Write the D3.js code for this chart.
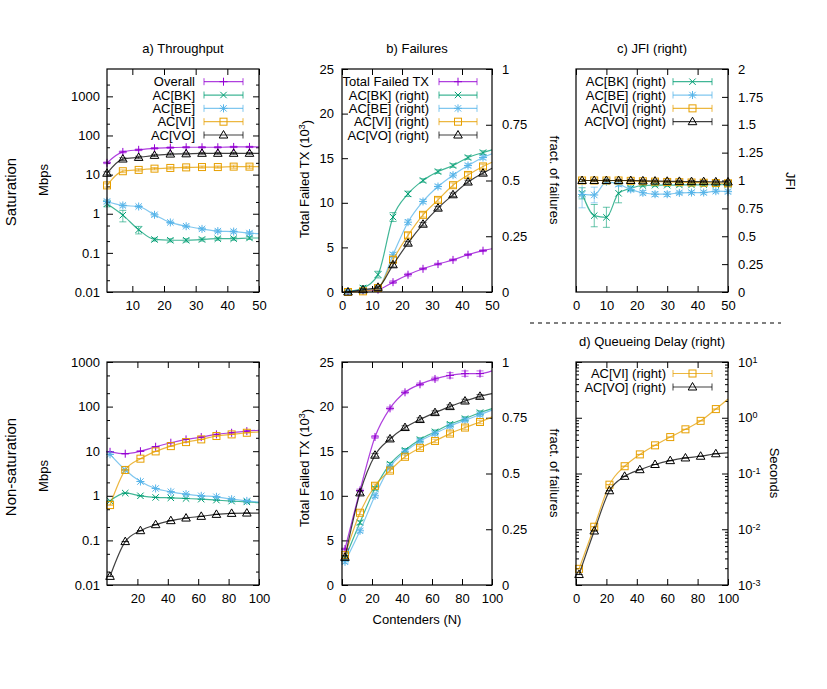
<!DOCTYPE html>
<html>
<head>
<meta charset="utf-8">
<script src="https://cdn.jsdelivr.net/npm/d3@7"></script>
<style>
  body { margin: 0; background: #fff; }
  text { font-family: "Liberation Sans", Arial, sans-serif; font-size: 13px; fill: #000; }
</style>
</head>
<body>
<div id="graf"></div>
<script>
// ---- x positions (last entry of the saturation/non-sat arrays is where the line ends, no marker)
const xSat = [2, 7, 12, 17, 22, 27, 32, 37, 42, 47, 50];
const xSatJfi = [2, 6, 10, 14, 18, 22, 26, 30, 34, 38, 42, 46, 50];
const xNonSat = [2, 12, 22, 32, 42, 52, 62, 72, 82, 92, 100];

// ---- a) throughput, saturation (Mbps)
const satThrOverall = [20, 38, 43, 47, 49, 50, 50, 50, 51, 51, 51];
const satThrBK = [1.8, 0.92, 0.39, 0.22, 0.21, 0.21, 0.22, 0.23, 0.23, 0.24, 0.24];
const satThrBE = [2.06, 1.63, 1.53, 0.94, 0.6, 0.48, 0.41, 0.36, 0.35, 0.32, 0.31];
const satThrVI = [5.3, 12.2, 13.2, 14.2, 14.8, 15.3, 15.6, 15.6, 16, 16, 16];
const satThrVO = [10.8, 25, 27.5, 31, 33.5, 34, 35, 35, 35, 35, 35];
const satThrOverallErr = [1, 2, 2, 2, 2, 2, 2, 2, 2, 2, 0];
const satThrBKErr = [0.3, 0.3, 0.085, 0.02, 0.02, 0.02, 0.02, 0.02, 0.02, 0.02, 0];
const satThrBEErr = [0.2, 0.15, 0.1, 0.08, 0.04, 0.03, 0.03, 0.03, 0.03, 0.03, 0];
const satThrVIErr = [0.5, 1, 1, 1, 1, 1, 1, 1, 1.5, 1.5, 0];
const satThrVOErr = [1, 2, 2, 2, 2, 2, 2, 2, 2, 2, 0];

// ---- b) failures, saturation (total in 10^3, per AC as fraction)
const satFailTotal = [0, 0.15, 0.26, 1.1, 1.94, 2.6, 3.13, 3.6, 4.18, 4.63, 4.85];
const satFailBK = [0.003, 0.018, 0.078, 0.336, 0.44, 0.5, 0.54, 0.567, 0.603, 0.625, 0.637];
const satFailBE = [0.003, 0.007, 0.018, 0.167, 0.313, 0.406, 0.473, 0.524, 0.567, 0.603, 0.62];
const satFailVI = [0, 0.003, 0.018, 0.145, 0.254, 0.346, 0.413, 0.479, 0.525, 0.563, 0.582];
const satFailVO = [0, 0.01, 0.021, 0.122, 0.219, 0.304, 0.376, 0.436, 0.493, 0.533, 0.555];
const satFailTotalErr = [0, 0.1, 0.1, 0.15, 0.15, 0.1, 0.1, 0.1, 0.1, 0.1, 0];
const satFailBKErr = [0.005, 0.01, 0.015, 0.02, 0.012, 0.008, 0.008, 0.008, 0.008, 0.008, 0];
const satFailBEErr = [0.003, 0.005, 0.005, 0.01, 0.01, 0.008, 0.008, 0.008, 0.008, 0.008, 0];
const satFailVIErr = [0.003, 0.005, 0.008, 0.015, 0.012, 0.01, 0.01, 0.01, 0.01, 0.01, 0];
const satFailVOErr = [0.003, 0.005, 0.005, 0.01, 0.008, 0.008, 0.008, 0.008, 0.008, 0.008, 0];

// ---- c) JFI, saturation
const jfiBK = [0.885, 0.685, 0.67, 0.885, 0.93, 0.955, 0.958, 0.958, 0.96, 0.96, 0.962, 0.962, 0.964];
const jfiBE = [0.875, 0.87, 0.988, 0.967, 0.92, 0.89, 0.877, 0.877, 0.889, 0.892, 0.892, 0.904, 0.9];
const jfiVI = [1, 1, 1, 1, 0.997, 0.993, 0.99, 0.987, 0.985, 0.982, 0.98, 0.977, 0.975];
const jfiVO = [1, 1, 1, 1, 1, 0.997, 0.995, 0.993, 0.992, 0.99, 0.99, 0.988, 0.987];
const jfiBKErr = [0.05, 0.1, 0.09, 0.085, 0.02, 0.01, 0.01, 0.01, 0.01, 0.01, 0.01, 0.01, 0.01];
const jfiBEErr = [0.12, 0.07, 0.02, 0.02, 0.02, 0.02, 0.02, 0.02, 0.015, 0.015, 0.015, 0.015, 0.015];
const jfiSmallErr = [0.01, 0.01, 0.01, 0.01, 0.01, 0.01, 0.01, 0.01, 0.01, 0.01, 0.01, 0.01, 0.01];

// ---- throughput, non-saturation (Mbps)
const nsThrOverall = [9.7, 8.8, 10, 12.6, 15.5, 18.4, 20.7, 23.8, 25.9, 28.2, 29.5];
const nsThrBK = [0.77, 1.15, 1.0, 0.92, 0.9, 0.87, 0.84, 0.8, 0.76, 0.73, 0.7];
const nsThrBE = [8.5, 3.8, 2.09, 1.46, 1.23, 1.09, 1.0, 0.95, 0.84, 0.77, 0.72];
const nsThrVI = [0.62, 3.8, 6.8, 9.9, 13, 16, 18.4, 21.9, 23.8, 25.9, 27];
const nsThrVO = [0.0156, 0.094, 0.165, 0.225, 0.277, 0.317, 0.346, 0.383, 0.403, 0.41, 0.41];
const nsThrErr = [0, 0, 0, 0, 0, 0, 0, 0, 0, 0, 0];

// ---- failures, non-saturation
const nsFailTotal = [4.03, 10.6, 16.6, 19.8, 21.6, 22.5, 23.1, 23.5, 23.7, 23.7, 24.0];
const nsFailBK = [0.119, 0.28, 0.433, 0.542, 0.604, 0.652, 0.687, 0.721, 0.746, 0.773, 0.791];
const nsFailBE = [0.104, 0.243, 0.4, 0.53, 0.597, 0.645, 0.679, 0.712, 0.739, 0.764, 0.784];
const nsFailVI = [0.134, 0.324, 0.445, 0.513, 0.575, 0.615, 0.646, 0.679, 0.706, 0.731, 0.754];
const nsFailVO = [0.124, 0.413, 0.582, 0.655, 0.706, 0.742, 0.773, 0.8, 0.825, 0.846, 0.858];
const nsFailTotalErr = [0.1, 0.15, 0.15, 0.15, 0.15, 0.15, 0.2, 0.3, 0.3, 0.3, 0];
const nsFailErr = [0.008, 0.008, 0.008, 0.008, 0.008, 0.008, 0.008, 0.008, 0.008, 0.008, 0];

// ---- d) queueing delay, non-saturation (seconds)
const delayVI = [0.00195, 0.0111, 0.063, 0.135, 0.22, 0.32, 0.45, 0.62, 0.88, 1.43, 2.17];
const delayVO = [0.00154, 0.0093, 0.049, 0.089, 0.117, 0.145, 0.17, 0.19, 0.204, 0.226, 0.235];
const delayErr = [0, 0, 0, 0, 0, 0, 0, 0, 0, 0, 0];

const C = { all: "#9400d3", bk: "#009e73", be: "#56b4e9", vi: "#e69f00", vo: "#000000" };

const svg = d3.select("#graf").append("svg")
    .attr("width", 827).attr("height", 689)
    .attr("viewBox", [0, 0, 827, 689]);

const logTicks = (lo, hi) => d3.range(Math.round(Math.log10(lo)), Math.round(Math.log10(hi)) + 1).map(e => Math.pow(10, e));
const logMinor = (lo, hi, mult) => {
  const out = [];
  d3.range(Math.floor(Math.log10(lo)), Math.ceil(Math.log10(hi)) + 1).forEach(e =>
    mult.forEach(m => { const v = m * Math.pow(10, e); if (v > lo && v < hi) out.push(v); }));
  return out;
};

function marker(g, type, cx, cy, color) {
  const s = g.append("g").attr("stroke", color).attr("fill", "none").attr("stroke-width", 1);
  if (type === "plus" || type === "star") {
    s.append("line").attr("x1", cx - 4).attr("x2", cx + 4).attr("y1", cy).attr("y2", cy);
    s.append("line").attr("x1", cx).attr("x2", cx).attr("y1", cy - 4).attr("y2", cy + 4);
  }
  if (type === "cross" || type === "star") {
    s.append("line").attr("x1", cx - 3.2).attr("x2", cx + 3.2).attr("y1", cy - 3.2).attr("y2", cy + 3.2);
    s.append("line").attr("x1", cx - 3.2).attr("x2", cx + 3.2).attr("y1", cy + 3.2).attr("y2", cy - 3.2);
  }
  if (type === "square") {
    s.append("rect").attr("x", cx - 3.5).attr("y", cy - 3.5).attr("width", 7).attr("height", 7);
  }
  if (type === "tri") {
    s.append("path").attr("d", `M${cx},${cy - 4.5}L${cx - 4.3},${cy + 3}L${cx + 4.3},${cy + 3}Z`);
  }
}

function yAxis(p, scale, spec, side) {
  const xPos = side === "left" ? p.x0 : p.x1;
  const mk = side === "left" ? d3.axisLeft : d3.axisRight;
  const g = svg.append("g").attr("transform", `translate(${xPos},0)`);
  const ax = g.append("g").call(mk(scale).tickValues(spec.ticks).tickSize(-6)
      .tickPadding(spec.pad).tickFormat(spec.labels ? (d => String(d)) : ""));
  if (spec.labels && spec.sup) {
    ax.selectAll(".tick text").each(function(d) {
      const t = d3.select(this).text("10");
      t.append("tspan").attr("dy", "-0.45em").style("font-size", "9px").text(Math.round(Math.log10(d)));
    });
  }
  if (spec.minor) {
    g.append("g").call(mk(scale).tickValues(spec.minor).tickSize(-3).tickFormat(""));
  }
  g.selectAll(".domain").remove();
  g.selectAll("line").attr("stroke", "#000");
  g.selectAll("text").attr("font-size", null).attr("font-family", null).attr("fill", "#000")
    .attr("text-anchor", side === "left" ? "end" : "start");
}

function panel(p) {
  const x = d3.scaleLinear().domain(p.xDomain).range([p.x0, p.x1]);
  const scales = {};
  for (const side of ["left", "right"]) {
    const spec = p.axes[side];
    if (!spec) continue;
    const s = (spec.log ? d3.scaleLog() : d3.scaleLinear()).domain(spec.domain).range([p.y1, p.y0]);
    scales[side] = s;
    yAxis(p, s, spec, side);
    if (spec.mirror) yAxis(p, s, Object.assign({}, spec, { labels: false }), side === "left" ? "right" : "left");
  }

  // x axis at the bottom, mirrored ticks at the top
  const xb = svg.append("g").attr("transform", `translate(0,${p.y1})`)
      .call(d3.axisBottom(x).tickValues(p.xTicks).tickSize(-6).tickPadding(9).tickFormat(d => String(d)));
  const xt = svg.append("g").attr("transform", `translate(0,${p.y0})`)
      .call(d3.axisTop(x).tickValues(p.xTicks).tickSize(-6).tickFormat(""));
  [xb, xt].forEach(g => {
    g.select(".domain").remove();
    g.selectAll("line").attr("stroke", "#000");
    g.selectAll("text").attr("font-size", null).attr("font-family", null).attr("fill", "#000");
  });

  const plot = svg.append("g");
  p.series.forEach(s => {
    const y = scales[s.axis];
    const isLog = p.axes[s.axis].log;
    const pts = s.xs.map((xv, i) => [xv, s.ys[i], s.err[i]]);
    const line = d3.line().x(d => x(d[0])).y(d => y(d[1])).curve(d3.curveMonotoneX);
    plot.append("path").attr("d", line(pts)).attr("fill", "none")
        .attr("stroke", s.color).attr("stroke-width", 1.2).attr("stroke-opacity", 0.75);
    const nm = s.nMarks ?? pts.length;
    pts.slice(0, nm).forEach(d => {
      const cx = x(d[0]);
      const lo = isLog ? Math.max(d[1] - d[2], d[1] * 0.05) : d[1] - d[2];
      const ya = y(lo), yb = y(d[1] + d[2]);
      const eb = plot.append("g").attr("stroke", s.color).attr("stroke-opacity", 0.6).attr("stroke-width", 1);
      eb.append("line").attr("x1", cx).attr("x2", cx).attr("y1", ya).attr("y2", yb);
      eb.append("line").attr("x1", cx - 3.5).attr("x2", cx + 3.5).attr("y1", ya).attr("y2", ya);
      eb.append("line").attr("x1", cx - 3.5).attr("x2", cx + 3.5).attr("y1", yb).attr("y2", yb);
      marker(plot, s.marker, cx, y(d[1]), s.color);
    });
  });

  if (p.legend) {
    const L = p.legend;
    p.series.forEach((s, i) => {
      const ry = L.y + i * L.dy;
      svg.append("text").attr("x", L.textX).attr("y", ry + 4.5).attr("text-anchor", "end").text(s.name);
      const g = svg.append("g").attr("stroke", s.color);
      g.append("line").attr("x1", L.x1).attr("x2", L.x2).attr("y1", ry).attr("y2", ry)
        .attr("stroke-width", 1.2).attr("stroke-opacity", 0.75);
      [L.x1, L.x2].forEach(xx => g.append("line").attr("x1", xx).attr("x2", xx)
        .attr("y1", ry - 3.5).attr("y2", ry + 3.5).attr("stroke-opacity", 0.75));
      marker(svg, s.marker, (L.x1 + L.x2) / 2, ry, s.color);
    });
  }

  svg.append("rect").attr("x", p.x0).attr("y", p.y0)
    .attr("width", p.x1 - p.x0).attr("height", p.y1 - p.y0)
    .attr("fill", "none").attr("stroke", "#000").attr("stroke-width", 1.2);

  if (p.title) svg.append("text").attr("x", (p.x0 + p.x1) / 2).attr("y", p.title.y)
    .attr("text-anchor", "middle").text(p.title.text);
}

const ser = (name, color, mk, xs, ys, err, axis, nMarks) => ({ name, color, marker: mk, xs, ys, err, axis, nMarks });

const col = [[107, 259], [342, 492], [576, 728]];
const row = [[69, 292], [362, 585]];
const frame = (c, r) => ({ x0: col[c][0], x1: col[c][1], y0: row[r][0], y1: row[r][1] });

const thrAxis = (hi) => ({ log: true, domain: [0.01, hi], ticks: logTicks(0.01, 1000),
  minor: logMinor(0.01, hi, [2, 5]), labels: true, pad: 7, mirror: true });
const failLeft = { domain: [0, 25], ticks: [0, 5, 10, 15, 20, 25], labels: true, pad: 8 };
const failRight = { domain: [0, 1], ticks: [0, 0.25, 0.5, 0.75, 1], labels: true, pad: 10 };

// a) Throughput
panel(Object.assign(frame(0, 0), {
  xDomain: [2, 50], xTicks: [10, 20, 30, 40, 50],
  axes: { left: thrAxis(5000) },
  title: { text: "a) Throughput", y: 53 },
  series: [
    ser("Overall", C.all, "plus", xSat, satThrOverall, satThrOverallErr, "left", 10),
    ser("AC[BK]", C.bk, "cross", xSat, satThrBK, satThrBKErr, "left", 10),
    ser("AC[BE]", C.be, "star", xSat, satThrBE, satThrBEErr, "left", 10),
    ser("AC[VI]", C.vi, "square", xSat, satThrVI, satThrVIErr, "left", 10),
    ser("AC[VO]", C.vo, "tri", xSat, satThrVO, satThrVOErr, "left", 10)
  ],
  legend: { textX: 195, x1: 204, x2: 243, y: 81.7, dy: 13.33 }
}));

// b) Failures
panel(Object.assign(frame(1, 0), {
  xDomain: [0, 50], xTicks: [0, 10, 20, 30, 40, 50],
  axes: { left: failLeft, right: failRight },
  title: { text: "b) Failures", y: 53 },
  series: [
    ser("Total Failed TX", C.all, "plus", xSat, satFailTotal, satFailTotalErr, "left", 10),
    ser("AC[BK] (right)", C.bk, "cross", xSat, satFailBK, satFailBKErr, "right", 10),
    ser("AC[BE] (right)", C.be, "star", xSat, satFailBE, satFailBEErr, "right", 10),
    ser("AC[VI] (right)", C.vi, "square", xSat, satFailVI, satFailVIErr, "right", 10),
    ser("AC[VO] (right)", C.vo, "tri", xSat, satFailVO, satFailVOErr, "right", 10)
  ],
  legend: { textX: 429, x1: 439, x2: 477, y: 81.7, dy: 13.33 }
}));

// c) JFI
panel(Object.assign(frame(2, 0), {
  xDomain: [0, 50], xTicks: [0, 10, 20, 30, 40, 50],
  axes: { right: { domain: [0, 2], ticks: d3.range(0, 2.01, 0.25), labels: true, pad: 10 } },
  title: { text: "c) JFI (right)", y: 53 },
  series: [
    ser("AC[BK] (right)", C.bk, "cross", xSatJfi, jfiBK, jfiBKErr, "right"),
    ser("AC[BE] (right)", C.be, "star", xSatJfi, jfiBE, jfiBEErr, "right"),
    ser("AC[VI] (right)", C.vi, "square", xSatJfi, jfiVI, jfiSmallErr, "right"),
    ser("AC[VO] (right)", C.vo, "tri", xSatJfi, jfiVO, jfiSmallErr, "right")
  ],
  legend: { textX: 666, x1: 673, x2: 712, y: 81.7, dy: 13.33 }
}));

// throughput, non-saturation
panel(Object.assign(frame(0, 1), {
  xDomain: [0, 100], xTicks: [20, 40, 60, 80, 100],
  axes: { left: thrAxis(1000) },
  series: [
    ser("Overall", C.all, "plus", xNonSat, nsThrOverall, nsThrErr, "left", 10),
    ser("AC[BK]", C.bk, "cross", xNonSat, nsThrBK, nsThrErr, "left", 10),
    ser("AC[BE]", C.be, "star", xNonSat, nsThrBE, nsThrErr, "left", 10),
    ser("AC[VI]", C.vi, "square", xNonSat, nsThrVI, nsThrErr, "left", 10),
    ser("AC[VO]", C.vo, "tri", xNonSat, nsThrVO, nsThrErr, "left", 10)
  ]
}));

// failures, non-saturation
panel(Object.assign(frame(1, 1), {
  xDomain: [0, 100], xTicks: [0, 20, 40, 60, 80, 100],
  axes: { left: failLeft, right: failRight },
  series: [
    ser("Total Failed TX", C.all, "plus", xNonSat, nsFailTotal, nsFailTotalErr, "left", 10),
    ser("AC[BK] (right)", C.bk, "cross", xNonSat, nsFailBK, nsFailErr, "right", 10),
    ser("AC[BE] (right)", C.be, "star", xNonSat, nsFailBE, nsFailErr, "right", 10),
    ser("AC[VI] (right)", C.vi, "square", xNonSat, nsFailVI, nsFailErr, "right", 10),
    ser("AC[VO] (right)", C.vo, "tri", xNonSat, nsFailVO, nsFailErr, "right", 10)
  ]
}));

// d) Queueing delay
panel(Object.assign(frame(2, 1), {
  xDomain: [0, 100], xTicks: [0, 20, 40, 60, 80, 100],
  axes: { right: { log: true, domain: [0.001, 10], ticks: logTicks(0.001, 10),
    minor: logMinor(0.001, 10, [2, 3, 4, 5, 6, 7, 8, 9]), labels: true, sup: true, pad: 10, mirror: true } },
  title: { text: "d) Queueing Delay (right)", y: 346 },
  series: [
    ser("AC[VI] (right)", C.vi, "square", xNonSat, delayVI, delayErr, "right", 10),
    ser("AC[VO] (right)", C.vo, "tri", xNonSat, delayVO, delayErr, "right", 10)
  ],
  legend: { textX: 666, x1: 673, x2: 712, y: 373.5, dy: 13.5 }
}));

// axis titles and row labels
const vlabel = (x, y, rot, txt, size) => svg.append("text")
  .attr("transform", `translate(${x},${y}) rotate(${rot})`)
  .attr("text-anchor", "middle").style("font-size", size ? size + "px" : null).text(txt);

vlabel(15.5, 192, -90, "Saturation", 15);
vlabel(15.5, 467, -90, "Non-saturation", 15);
vlabel(48, 180, -90, "Mbps");
vlabel(48, 476, -90, "Mbps");
[179, 468].forEach(yy => {
  const t = vlabel(309, yy, -90, "Total Failed TX (10");
  t.append("tspan").attr("dy", "-0.45em").style("font-size", "9px").text("3");
  t.append("tspan").attr("dy", "0.45em").text(")");
});
vlabel(550, 180, 90, "fract. of failures");
vlabel(550, 473, 90, "fract. of failures");
vlabel(786, 181, 90, "JFI");
vlabel(770, 473, 90, "Seconds");

svg.append("text").attr("x", 417).attr("y", 623.5).attr("text-anchor", "middle").text("Contenders (N)");

// separator between the saturation and non-saturation parts of the right column
svg.append("line").attr("x1", 530).attr("x2", 781).attr("y1", 323).attr("y2", 323)
  .attr("stroke", "#000").attr("stroke-width", 1.2).attr("stroke-dasharray", "4,4");
</script>
</body>
</html>
